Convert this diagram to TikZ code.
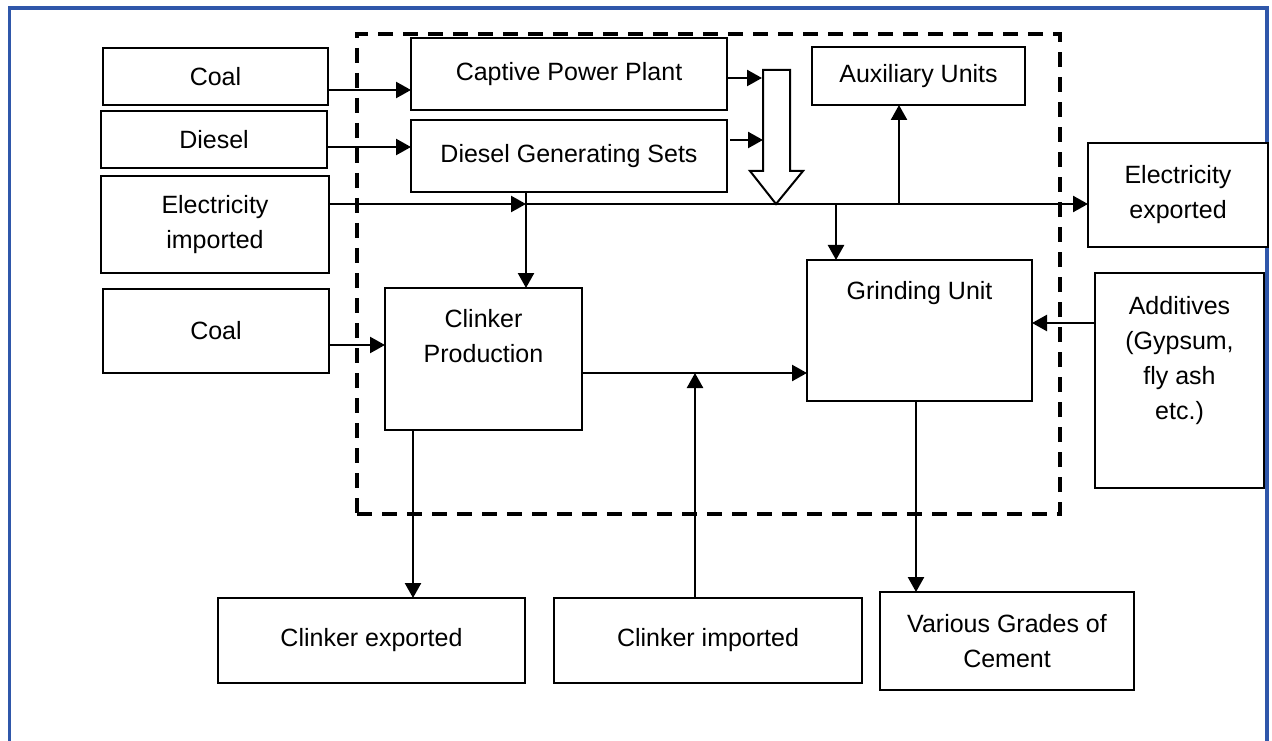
\documentclass[tikz,border=0pt]{standalone}
\usepackage{fontspec}
\setmainfont{Liberation Sans}
\usetikzlibrary{positioning, arrows.meta, calc}

\begin{document}
\begin{tikzpicture}[x=0.5pt,y=0.5pt,
  box/.style={draw=drawColor, line width=1pt, fill=fillColor, align=center, inner sep=0pt, outer sep=0pt, font=\fontsize{12.5}{17.5}\selectfont},
  arr/.style={draw=drawColor, line width=1.2pt, -{Triangle[length=7.5pt,width=8pt]}},
  plantbox/.style={draw=drawColor, line width=2pt, dash pattern=on 7.5pt off 5pt, inner sep=0pt}]
\definecolor{fillColor}{RGB}{255,255,255}
\definecolor{drawColor}{RGB}{0,0,0}
\definecolor{frameColor}{RGB}{47,87,170}
\path[use as bounding box,fill=fillColor] (0,0) rectangle (1272,740);
\begin{scope}
\path[clip] (0,0) rectangle (1272,740);
\path[draw=frameColor,line width=1.8pt] (9.5,-5) -- (9.5,732) -- (1267,732) -- (1267,-5);
\end{scope}

\node[plantbox, minimum width=351.5pt, minimum height=240pt] (plant) at (708.5,466) {};

\node[box, minimum width=112.5pt, minimum height=28.5pt] (coalA) at (215.5,663.5) {Coal};
\node[box, minimum width=113pt, minimum height=28.5pt] (diesel) at (214,600.5) {Diesel};
\node[box, minimum width=114pt, minimum height=48.5pt] (elecIn) at (215,515.5) {Electricity\\imported};
\node[box, minimum width=113pt, minimum height=42pt] (coalB) at (216,409) {Coal};

\node[box, minimum width=158pt, minimum height=36pt] (cpp) at (569,666) {Captive Power Plant};
\node[box, minimum width=158pt, minimum height=36pt] (dgs) at (569,584) {Diesel Generating Sets};
\node[box, minimum width=106.5pt, minimum height=29pt] (aux) at (918.5,664) {Auxiliary Units};
\node[box, minimum width=90pt, minimum height=52pt] (elecOut) at (1178,545) {Electricity\\exported};

\node[box, minimum width=98.5pt, minimum height=71pt] (clinker) at (483.5,381) {Clinker\\Production\\\strut};
\node[box, minimum width=112.5pt, minimum height=70.5pt] (grind) at (919.5,409.5) {Grinding Unit\\\strut\\\strut};
\node[box, minimum width=84.5pt, minimum height=107.5pt] (addit) at (1179.5,359.5) {Additives\\(Gypsum,\\fly ash\\etc.)\\\strut};

\node[box, minimum width=153.5pt, minimum height=42.5pt] (clkExp) at (371.5,99.5) {Clinker exported};
\node[box, minimum width=154pt, minimum height=42.5pt] (clkImp) at (708,99.5) {Clinker imported};
\node[box, minimum width=127pt, minimum height=49pt] (grades) at (1007,99) {Various Grades of\\Cement};

\coordinate (inA) at (762,662);
\coordinate (inB) at (763,600);
\coordinate (feed) at (526,536);
\coordinate (tapG) at (836,536);
\coordinate (tapA) at (899,536);
\coordinate (mix) at (695,367);

\path[draw=drawColor,line width=1pt,line join=miter,fill=fillColor] (763,670) -- (790,670) -- (790,569) -- (803,569) --
	(776,536) -- (750,569) -- (763,569) -- cycle;

\draw[arr] (coalA.east |- 0,650) -- (cpp.west |- 0,650);
\draw[arr] (diesel.east |- 0,593) -- (dgs.west |- 0,593);
\draw[arr] (cpp.east |- inA) -- (inA);
\draw[arr] ([xshift=1.5pt]dgs.east |- inB) -- (inB);

\draw[arr] (elecIn.east |- feed) -- (feed);
\draw[arr] (feed) -- (elecOut.west |- feed);
\draw[arr] (feed |- dgs.south) -- (feed |- clinker.north);
\draw[arr] (tapG) -- (tapG |- grind.north);
\draw[arr] (tapA) -- (tapA |- aux.south);

\draw[arr] (coalB.east |- 0,395) -- (clinker.west |- 0,395);
\draw[arr] (clinker.east |- mix) -- (grind.west |- mix);
\draw[arr] (clkImp.north -| mix) -- (mix);
\draw[arr] (addit.west |- 0,417) -- (grind.east |- 0,417);
\draw[arr] (413,0 |- clinker.south) -- (413,0 |- clkExp.north);
\draw[arr] (916,0 |- grind.south) -- (916,0 |- grades.north);
\end{tikzpicture}
\end{document}
